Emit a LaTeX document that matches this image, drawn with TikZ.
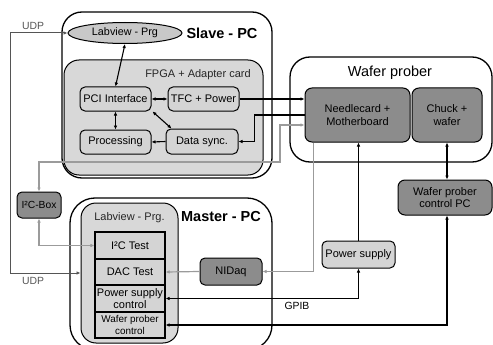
\documentclass[tikz,border=0pt]{standalone}
\usepackage{fontspec}
\setmainfont{Liberation Sans}
\usetikzlibrary{shapes.geometric,arrows.meta,calc}
\definecolor{dgray}{RGB}{140,140,140}
\definecolor{lgray}{RGB}{212,212,212}
\definecolor{egray}{RGB}{200,200,200}
\definecolor{gline}{RGB}{155,155,155}
\definecolor{uline}{RGB}{85,85,85}
\tikzset{
  box/.style={draw, rectangle, rounded corners=5pt, line width=1pt, inner sep=0pt, align=center, font=\fontsize{11}{12.5}\selectfont},
  darkbox/.style={box, fill=dgray},
  lightbox/.style={box, fill=lgray},
  stackbox/.style={draw, rectangle, line width=1.2pt, fill=lgray, inner sep=0pt, align=center, minimum width=70pt, font=\fontsize{11}{12}\selectfont},
  bigbox/.style={draw, rectangle, line width=1.3pt, inner sep=0pt},
  conn/.style={line width=1.1pt, black},
  gconn/.style={line width=1.2pt, gline},
  uconn/.style={line width=1pt, uline},
}
\begin{document}
\begin{tikzpicture}[x=1pt,y=-1pt,>={Latex[length=4pt,width=3.6pt]}]
\useasboundingbox (0,0) rectangle (493,345);
% Slave PC
\node[bigbox, rounded corners=20pt, minimum width=210pt, minimum height=166pt] (slave) at (167,95) {};
\node[bigbox, rounded corners=15pt, line width=1pt, fill=lgray!90!white, minimum width=199pt, minimum height=115pt] (fpga) at (163.5,117.5) {};
\node[draw, ellipse, line width=1pt, fill=egray, inner sep=0pt, minimum width=114pt, minimum height=21pt, font=\fontsize{10.8}{12}\selectfont] (labS) at (125,33) {Labview - Prg};
\node[font=\fontsize{14.5}{16}\selectfont\bfseries] (slavet) at (222,33) {Slave - PC};
\node[font=\fontsize{11}{12}\selectfont, text=black!85] (fpgat) at (198,75) {FPGA + Adapter card};
\node[lightbox, minimum width=71pt, minimum height=24pt] (pci) at (115.5,99) {PCI Interface};
\node[lightbox, minimum width=71pt, minimum height=24pt] (tfc) at (203.5,99) {TFC + Power};
\node[lightbox, minimum width=71pt, minimum height=24pt] (proc) at (115.5,142) {Processing};
\node[lightbox, minimum width=72pt, minimum height=25pt] (dsync) at (202,141.5) {Data sync.};
% Wafer prober
\node[bigbox, rounded corners=20pt, minimum width=202pt, minimum height=105pt] (wafer) at (391,109.5) {};
\node[font=\fontsize{14.5}{16}\selectfont] (wafert) at (390,73) {Wafer prober};
\node[darkbox, rounded corners=7pt, minimum width=105pt, minimum height=54pt] (needle) at (357.5,115) {Needlecard +\\Motherboard};
\node[darkbox, rounded corners=7pt, minimum width=70pt, minimum height=54pt] (chuck) at (447,115) {Chuck +\\wafer};
% I2C box
\node[darkbox, minimum width=44pt, minimum height=26pt, font=\fontsize{10.3}{12}\selectfont] (i2cbox) at (39,205) {I²C-Box};
% Master PC
\node[bigbox, rounded corners=25pt, minimum width=202pt, minimum height=152pt] (master) at (171,274) {};
\node[font=\fontsize{14.5}{16}\selectfont\bfseries] (mastert) at (221,217) {Master - PC};
\node[bigbox, line width=1pt, rounded corners=15pt, fill=lgray!90!white, minimum width=97pt, minimum height=140pt] (labM) at (129.5,273) {};
\node[font=\fontsize{11}{12}\selectfont, text=black!85] (labMt) at (129.5,218) {Labview - Prg.};
\node[stackbox, minimum height=27pt] (i2ct) at (130,245.5) {I²C Test};
\node[stackbox, minimum height=26pt] (dac) at (130,272) {DAC Test};
\node[stackbox, minimum height=27pt, font=\fontsize{11}{11.5}\selectfont] (psc) at (130,298.5) {Power supply\\control};
\node[stackbox, minimum height=26pt, font=\fontsize{9.9}{11.5}\selectfont] (wpc) at (130,325) {Wafer prober\\control};
% other devices
\node[darkbox, minimum width=62pt, minimum height=27pt] (nidaq) at (231,271.5) {NIDaq};
\node[lightbox, minimum width=73pt, minimum height=27pt] (psu) at (358.5,254.5) {Power supply};
\node[darkbox, rounded corners=7pt, minimum width=94pt, minimum height=35pt] (wpcpc) at (445,197.5) {Wafer prober\\control PC};
% labels
\node[font=\fontsize{10.4}{12}\selectfont, text=uline] (udp1) at (33,26) {UDP};
\node[font=\fontsize{10.4}{12}\selectfont, text=uline] (udp2) at (33,281) {UDP};
\node[font=\fontsize{10.4}{12}\selectfont] (gpib) at (297,306) {GPIB};
% coordinates
\coordinate (u1) at (10,273);
\coordinate (g1) at (280,162);
% slave-internal connectors
\draw[conn, <->] (labS.south) -- (pci.north);
\draw[conn, <->] (pci.east) -- (tfc.west);
\draw[conn, <->] (pci.south) -- (proc.north);
\draw[conn, <->] ([xshift=1pt]pci.south east) -- ([xshift=6pt]dsync.north west);
\draw[conn, ->] (dsync.west) -- (proc.east);
% slave <-> wafer prober
\draw[conn, ->] (tfc.east) -- (needle.west |- tfc.east);
\draw[conn, ->] (needle.west) -- ++(-50,0) |- (dsync.east);
\draw[gconn, <->] (i2cbox.north) |- (g1) |- ($(needle.west)+(0,10)$);
% UDP
\draw[uconn, <->] (labS.west) -| (u1) -- (labM.west |- u1);
% I2C
\draw[gconn, <->] (i2cbox.south) |- (i2ct.west);
% NIDaq
\draw[gconn, ->] (nidaq.west) -- (dac.east);
\draw[gconn, ->] ($(needle.south west)+(9,0)$) |- (nidaq.east);
% power supply
\draw[conn, ->] (psu.north) -- (psu.north |- needle.south);
\draw[conn, line width=1.5pt, <->] (psu.south) |- (psc.east);
% wafer prober control
\draw[conn, <->] (chuck.south) -- (chuck.south |- wpcpc.north);
\draw[conn, <->] (chuck.south |- wpcpc.south) |- (wpc.east);
\end{tikzpicture}
\end{document}
